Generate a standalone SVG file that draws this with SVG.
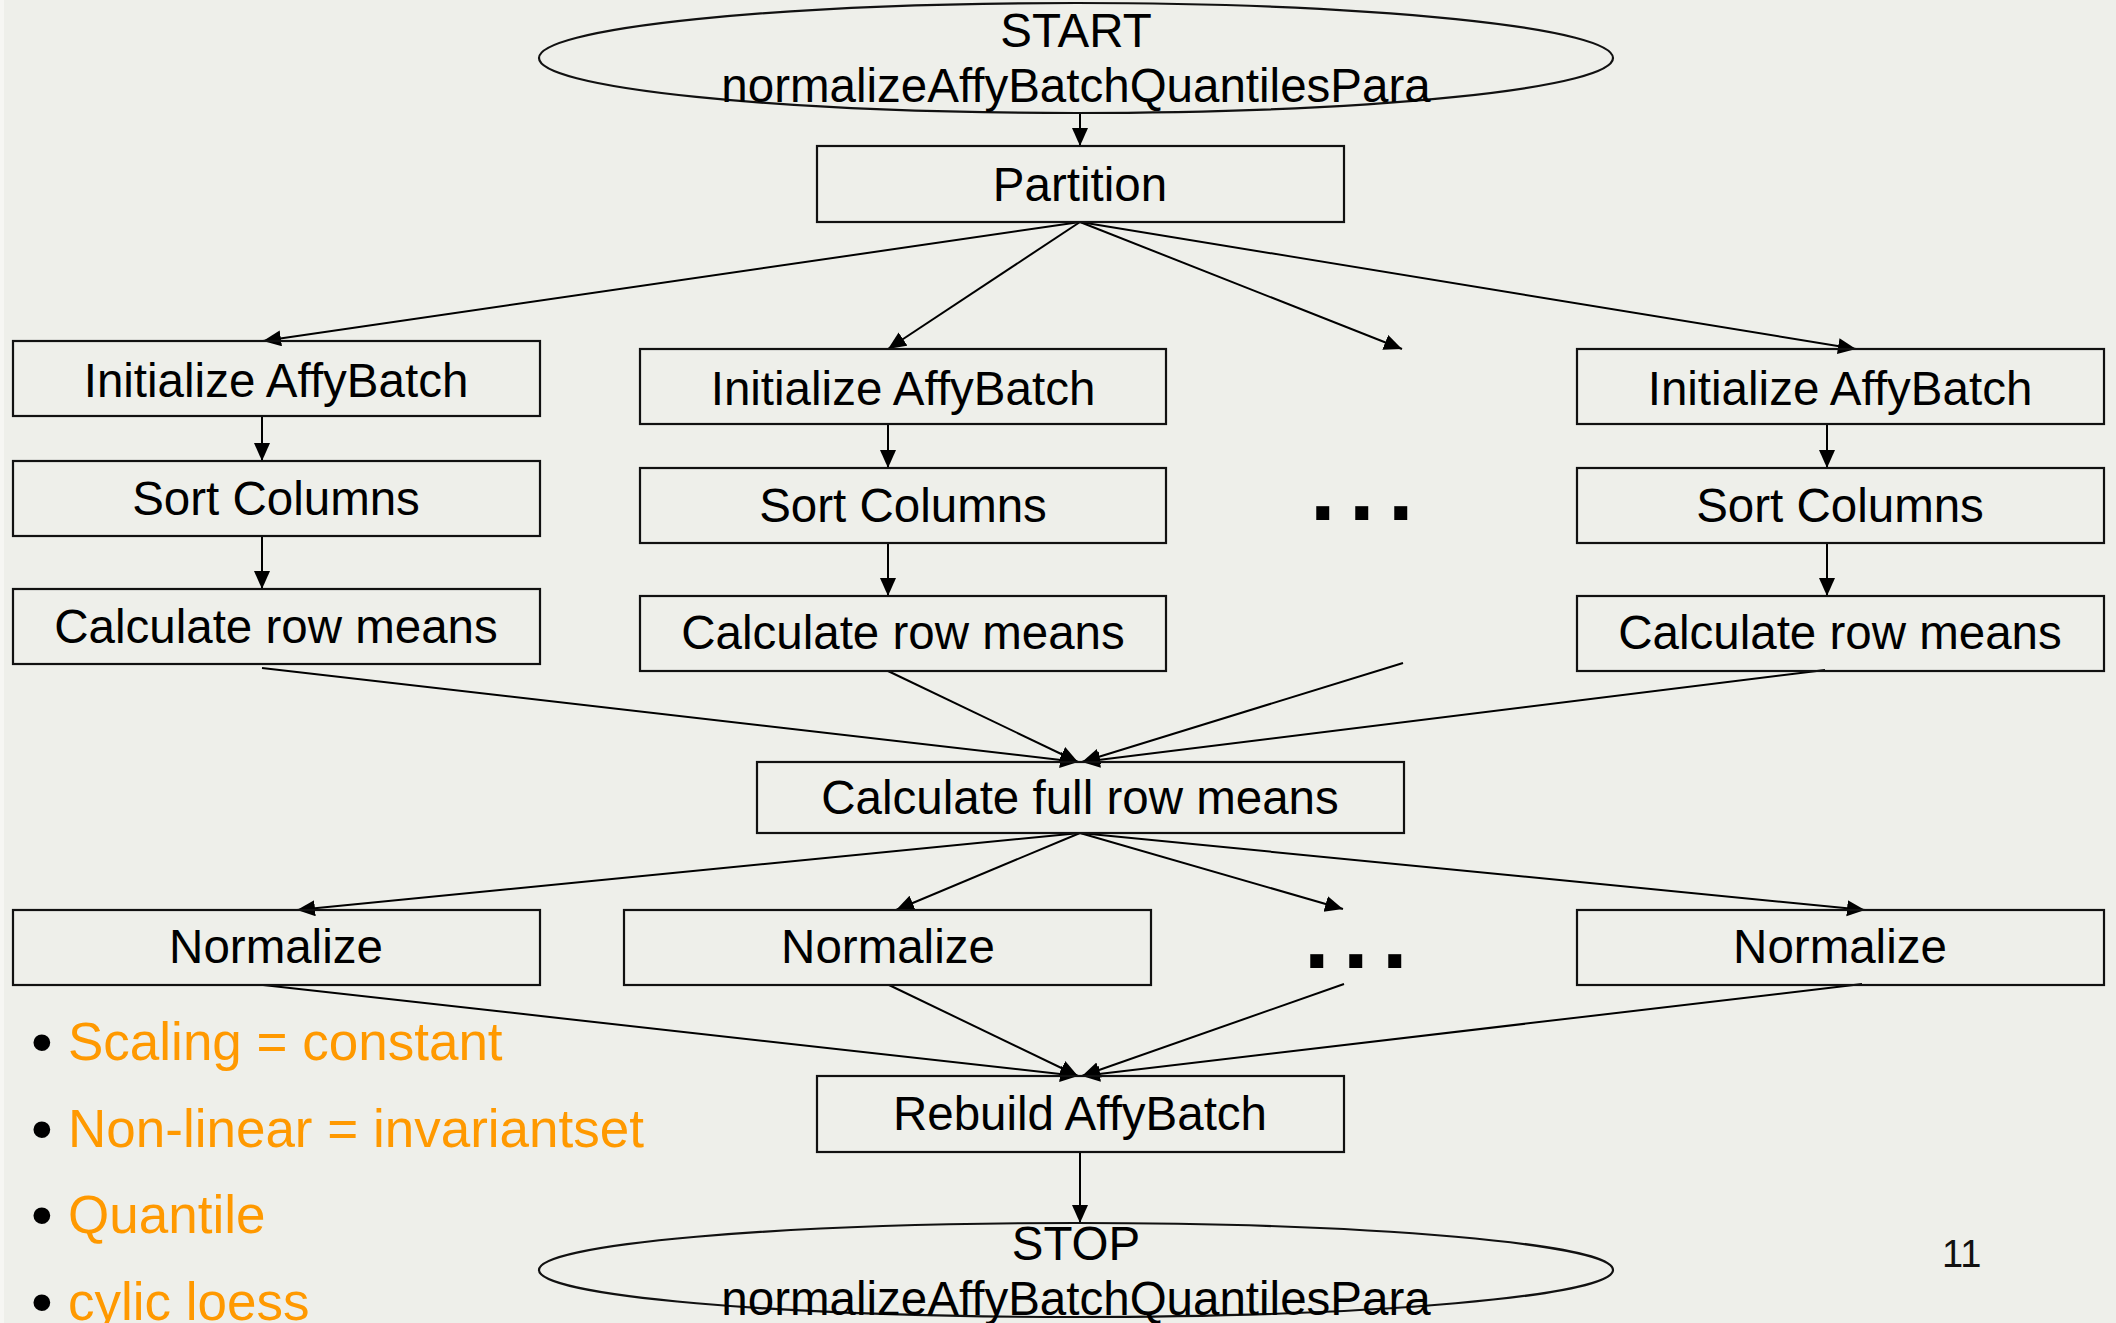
<svg xmlns="http://www.w3.org/2000/svg" width="2116" height="1323" viewBox="0 0 2116 1323">
  <defs>
    <marker id="arrow" markerUnits="userSpaceOnUse" markerWidth="19" markerHeight="17" refX="18" refY="8" orient="auto">
      <path d="M0,0 L18,8 L0,16 z" fill="#000"/>
    </marker>
    <style>
      .box { fill: none; stroke: #111; stroke-width: 2.2; }
      .term { fill: none; stroke: #111; stroke-width: 2.2; }
      .lbl { font-family: "Liberation Sans", Arial, sans-serif; font-size: 47.5px; fill: #000; text-anchor: middle; }
      .edge { stroke: #000; stroke-width: 2; fill: none; marker-end: url(#arrow); }
      .dots { font-family: "Liberation Sans", Arial, sans-serif; font-weight: bold; font-size: 92px; letter-spacing: 13.5px; fill: #000; }
      .bullet { font-family: "Liberation Sans", Arial, sans-serif; font-size: 62px; fill: #000; }
      .note { font-family: "Liberation Sans", Arial, sans-serif; font-size: 53px; fill: #FF9900; }
    </style>
  </defs>

  <!-- page -->
  <rect x="0" y="0" width="2116" height="1323" fill="#EEEFEA"/>
  <rect x="0" y="0" width="4" height="1323" fill="#F6F6F3"/>

  <!-- connectors -->
  <g id="connectors">
    <line class="edge" x1="1080" y1="114" x2="1080" y2="146"/>
    <line class="edge" x1="1080" y1="222" x2="263" y2="341"/>
    <line class="edge" x1="1080" y1="222" x2="888" y2="349"/>
    <line class="edge" x1="1080" y1="222" x2="1402" y2="349"/>
    <line class="edge" x1="1080" y1="222" x2="1856" y2="349"/>

    <line class="edge" x1="262" y1="417" x2="262" y2="461"/>
    <line class="edge" x1="262" y1="536" x2="262" y2="589"/>
    <line class="edge" x1="888" y1="424" x2="888" y2="468"/>
    <line class="edge" x1="888" y1="543" x2="888" y2="596"/>
    <line class="edge" x1="1827" y1="424" x2="1827" y2="468"/>
    <line class="edge" x1="1827" y1="543" x2="1827" y2="596"/>

    <line class="edge" x1="262" y1="668" x2="1078" y2="762"/>
    <line class="edge" x1="888" y1="671" x2="1078" y2="762"/>
    <line class="edge" x1="1403" y1="663" x2="1082" y2="762"/>
    <line class="edge" x1="1825" y1="670" x2="1082" y2="762"/>

    <line class="edge" x1="1080" y1="833" x2="297" y2="910"/>
    <line class="edge" x1="1080" y1="833" x2="896" y2="910"/>
    <line class="edge" x1="1080" y1="833" x2="1343" y2="909"/>
    <line class="edge" x1="1080" y1="833" x2="1865" y2="910"/>

    <line class="edge" x1="263" y1="985" x2="1078" y2="1076"/>
    <line class="edge" x1="889" y1="985" x2="1078" y2="1076"/>
    <line class="edge" x1="1344" y1="984" x2="1082" y2="1076"/>
    <line class="edge" x1="1862" y1="984" x2="1082" y2="1076"/>

    <line class="edge" x1="1080" y1="1152" x2="1080" y2="1223"/>
  </g>

  <!-- terminals -->
  <g id="start">
    <ellipse class="term" cx="1076" cy="58" rx="537" ry="55"/>
    <text class="lbl" x="1076" y="47">START</text>
    <text class="lbl" x="1076" y="102">normalizeAffyBatchQuantilesPara</text>
  </g>

  <g id="partition">
    <rect class="box" x="817" y="146" width="527" height="76"/>
    <text class="lbl" x="1080" y="201">Partition</text>
  </g>

  <!-- left branch -->
  <g id="init-1">
    <rect class="box" x="13" y="341" width="527" height="75"/>
    <text class="lbl" x="276" y="397">Initialize AffyBatch</text>
  </g>
  <g id="sort-1">
    <rect class="box" x="13" y="461" width="527" height="75"/>
    <text class="lbl" x="276" y="515">Sort Columns</text>
  </g>
  <g id="rowmeans-1">
    <rect class="box" x="13" y="589" width="527" height="75"/>
    <text class="lbl" x="276" y="643">Calculate row means</text>
  </g>

  <!-- middle branch -->
  <g id="init-2">
    <rect class="box" x="640" y="349" width="526" height="75"/>
    <text class="lbl" x="903" y="405">Initialize AffyBatch</text>
  </g>
  <g id="sort-2">
    <rect class="box" x="640" y="468" width="526" height="75"/>
    <text class="lbl" x="903" y="522">Sort Columns</text>
  </g>
  <g id="rowmeans-2">
    <rect class="box" x="640" y="596" width="526" height="75"/>
    <text class="lbl" x="903" y="649">Calculate row means</text>
  </g>

  <g id="more-1">
    <text class="dots" x="1310" y="520">...</text>
  </g>

  <!-- right branch -->
  <g id="init-n">
    <rect class="box" x="1577" y="349" width="527" height="75"/>
    <text class="lbl" x="1840" y="405">Initialize AffyBatch</text>
  </g>
  <g id="sort-n">
    <rect class="box" x="1577" y="468" width="527" height="75"/>
    <text class="lbl" x="1840" y="522">Sort Columns</text>
  </g>
  <g id="rowmeans-n">
    <rect class="box" x="1577" y="596" width="527" height="75"/>
    <text class="lbl" x="1840" y="649">Calculate row means</text>
  </g>

  <g id="fullmeans">
    <rect class="box" x="757" y="762" width="647" height="71"/>
    <text class="lbl" x="1080" y="814">Calculate full row means</text>
  </g>

  <!-- normalize row -->
  <g id="normalize-1">
    <rect class="box" x="13" y="910" width="527" height="75"/>
    <text class="lbl" x="276" y="963">Normalize</text>
  </g>
  <g id="normalize-2">
    <rect class="box" x="624" y="910" width="527" height="75"/>
    <text class="lbl" x="888" y="963">Normalize</text>
  </g>
  <g id="more-2">
    <text class="dots" x="1304" y="968">...</text>
  </g>
  <g id="normalize-n">
    <rect class="box" x="1577" y="910" width="527" height="75"/>
    <text class="lbl" x="1840" y="963">Normalize</text>
  </g>

  <g id="rebuild">
    <rect class="box" x="817" y="1076" width="527" height="76"/>
    <text class="lbl" x="1080" y="1130">Rebuild AffyBatch</text>
  </g>

  <g id="stop">
    <ellipse class="term" cx="1076" cy="1270" rx="537" ry="47"/>
    <text class="lbl" x="1076" y="1260">STOP</text>
    <text class="lbl" x="1076" y="1315">normalizeAffyBatchQuantilesPara</text>
  </g>

  <!-- method list -->
  <g id="methods">
    <text class="bullet" x="31" y="1063">•</text>
    <text class="note" x="68" y="1060">Scaling = constant</text>
    <text class="bullet" x="31" y="1150">•</text>
    <text class="note" x="68" y="1147">Non-linear = invariantset</text>
    <text class="bullet" x="31" y="1236">•</text>
    <text class="note" x="68" y="1233">Quantile</text>
    <text class="bullet" x="31" y="1323">•</text>
    <text class="note" x="68" y="1320">cylic loess</text>
  </g>

  <text x="1942" y="1267" font-family="Liberation Sans, Arial, sans-serif" font-size="38" fill="#111">11</text>
</svg>
